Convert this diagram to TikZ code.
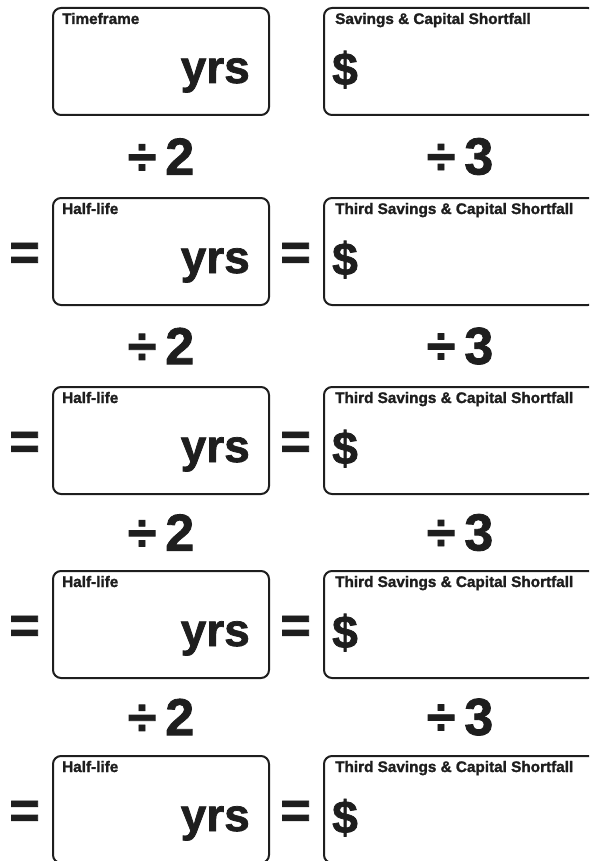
\documentclass[tikz,border=0pt]{standalone}
\usepackage{fontspec}
\setmainfont{Liberation Sans}[BoldFeatures={FakeBold=1.6}]
\usetikzlibrary{positioning}

\definecolor{ink}{HTML}{1E1E1E}
\tikzset{
  card/.style={draw=ink, line width=2pt, rounded corners=8pt, minimum height=107pt, inner sep=0pt, anchor=north west},
  yrscard/.style={card, minimum width=216pt},
  cashcard/.style={card, minimum width=272pt},
  tag/.style={text=ink, font=\fontsize{15.3}{16}\selectfont\bfseries, inner sep=0pt, anchor=base west},
  unit/.style={text=ink, font=\fontsize{46}{46}\selectfont\bfseries, inner sep=0pt},
  op/.style={text=ink, font=\fontsize{52}{52}\selectfont\bfseries, inner sep=0pt},
}

\begin{document}
\begin{tikzpicture}[x=1pt,y=-1pt]
  \useasboundingbox (0,0) rectangle (589,861);
  \clip (0,0) rectangle (589,861);
  % first row
  \node[yrscard] (yrs1) at (52,7) {};
  \node[cashcard] (cash1) at (323,7) {};
  \node[tag] (yrstag1) at ([xshift=10pt,yshift=-17pt]yrs1.north west) {Timeframe};
  \node[tag] (cashtag1) at ([xshift=12pt,yshift=-17pt]cash1.north west) {Savings \& Capital Shortfall};
  \node[unit, anchor=base east] (yrsunit1) at ([xshift=-20pt,yshift=-76pt]yrs1.north east) {yrs};
  \node[unit, anchor=base west] (cashunit1) at ([xshift=9pt,yshift=-78pt]cash1.north west) {\$};
  % following rows
  \foreach \ytop/\i/\j in {197/2/1, 386/3/2, 570/4/3, 755/5/4} {
    \node[yrscard] (yrs\i) at (52,\ytop) {};
    \node[cashcard] (cash\i) at (323,\ytop) {};
    \node[tag] (yrstag\i) at ([xshift=10pt,yshift=-17pt]yrs\i.north west) {Half-life};
    \node[tag] (cashtag\i) at ([xshift=12pt,yshift=-17pt]cash\i.north west) {Third Savings \& Capital Shortfall};
    \node[unit, anchor=base east] (yrsunit\i) at ([xshift=-20pt,yshift=-76pt]yrs\i.north east) {yrs};
    \node[unit, anchor=base west] (cashunit\i) at ([xshift=9pt,yshift=-78pt]cash\i.north west) {\$};
    \path (yrs\j.south) -- (yrs\i.north) node[op, midway] (halve\i) {÷\hspace{9pt}2};
    \path (cash\j.south) -- (cash\i.north) node[op, midway] (third\i) {÷\hspace{9pt}3};
    \node[op, left=12pt of yrs\i, yshift=-5pt] (eqyrs\i) {=};
    \node[op, left=12pt of cash\i, yshift=-5pt] (eqcash\i) {=};
  }
\end{tikzpicture}
\end{document}
